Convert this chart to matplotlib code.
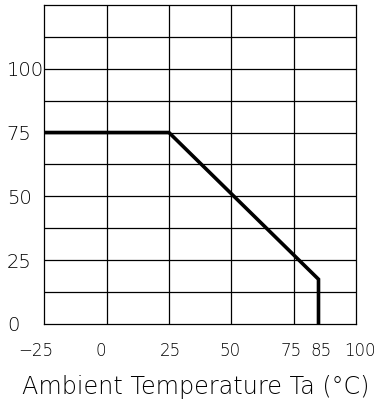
import numpy as np
import matplotlib.pyplot as plt
from matplotlib.transforms import ScaledTranslation

# derating curve
temp = [-25, 25, 85, 85]
load = [75, 75, 17.5, 0]

xticks = [-25, 0, 25, 50, 75, 85, 100]
yticks = [0, 25, 50, 75, 100]

fig = plt.figure(figsize=(3.77, 4.09), dpi=100)
ax = fig.add_axes([0.1175, 0.208, 0.8265, 0.78])

ax.plot(temp, load, color='black', lw=2.6, solid_joinstyle='miter', zorder=3)

ax.set_xlim(-25, 100)
ax.set_ylim(0, 125)

# grid lines every 25 in x and 12.5 in y
for gx in np.arange(0, 100, 25):
    ax.axvline(gx, color='black', lw=0.9)
for gy in np.arange(12.5, 125, 12.5):
    ax.axhline(gy, color='black', lw=0.9)

ax.set_xticks(xticks)
ax.set_xticklabels([str(v).replace('-', '\u2212') for v in xticks],
                   fontsize=12, fontweight='light')
ax.set_yticks(yticks)
ax.set_yticklabels([str(v) for v in yticks], fontsize=14, fontweight='light')
ax.tick_params(axis='x', length=0, pad=13)
ax.tick_params(axis='y', length=0, pad=27)
for lab in ax.get_yticklabels():
    lab.set_horizontalalignment('left')

# the drawing has its x labels a little off the grid lines
nudge = [-0.08, -0.06, 0.02, -0.01, -0.02, 0.03, 0.04]
for lab, dx in zip(ax.get_xticklabels(), nudge):
    lab.set_transform(lab.get_transform() + ScaledTranslation(dx, 0, fig.dpi_scale_trans))

for s in ax.spines.values():
    s.set_linewidth(0.9)

ax.set_xlabel('Ambient Temperature Ta (\u00b0C)', fontsize=17.2,
              fontweight='light', labelpad=11, x=0.485)

fig.savefig('out.png', dpi=100)
